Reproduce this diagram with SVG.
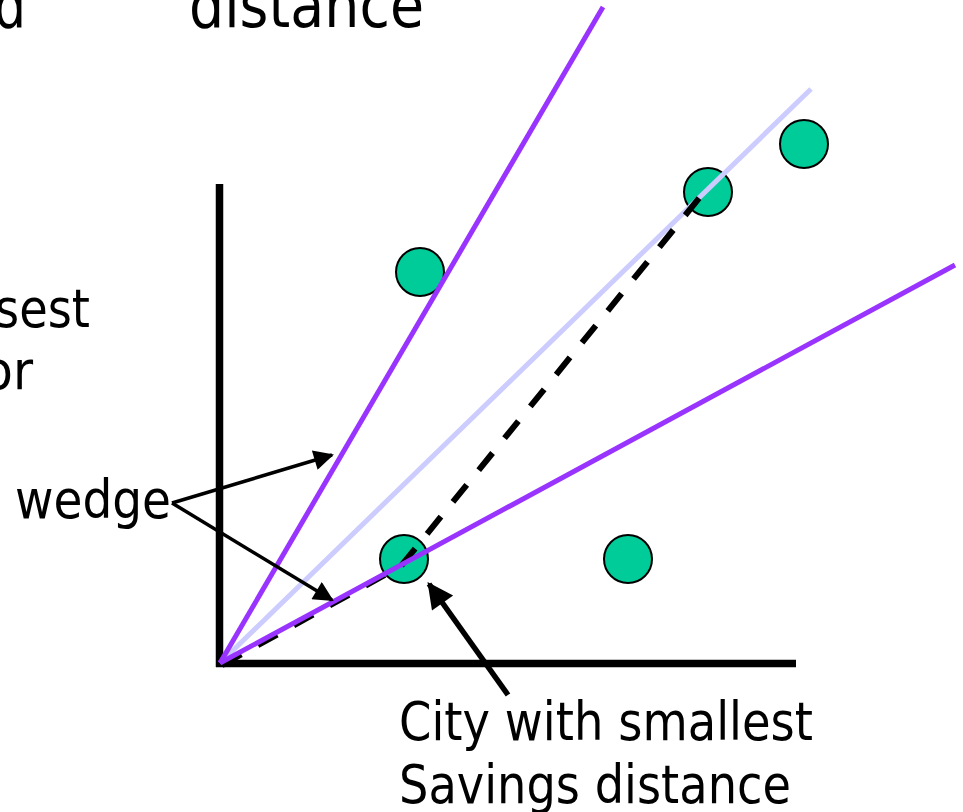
<svg xmlns="http://www.w3.org/2000/svg" width="963" height="812" viewBox="0 0 963 812">
<style>
.t{font-family:"DejaVu Sans","Noto Sans",sans-serif;font-size:54px;fill:#000}
.title{font-size:63px}
.city{fill:#00CC99;stroke:#000;stroke-width:2}
.axis{stroke:#000;stroke-width:7.5;fill:none}
.wedge{stroke:#9933FF;stroke-width:5;fill:none}
.mid{stroke:#CCCCFF;stroke-width:5;fill:none}
.dash{stroke:#000;stroke-width:6;stroke-dasharray:22 19;fill:none}
.ptr{stroke:#000;stroke-width:3.5;fill:none}
.ptr2{stroke:#000;stroke-width:5.5;fill:none}
</style>
<defs>
<marker id="ah" viewBox="0 0 10 10" refX="9" refY="5" markerUnits="userSpaceOnUse" markerWidth="26" markerHeight="20" orient="auto">
<path d="M0,0 L10,5 L0,10 z" fill="#000"/>
</marker>
<marker id="ah2" viewBox="0 0 10 10" refX="9" refY="5" markerUnits="userSpaceOnUse" markerWidth="30" markerHeight="26" orient="auto">
<path d="M0,0 L10,5 L0,10 z" fill="#000"/>
</marker>
</defs>
<rect width="963" height="812" fill="#fff"/>
<g id="labels">
<text class="t title" x="-6" y="27" textLength="32" lengthAdjust="spacingAndGlyphs">d</text>
<text class="t title" x="189" y="27" textLength="235" lengthAdjust="spacingAndGlyphs">distance</text>
<text class="t" x="-5" y="327" textLength="95" lengthAdjust="spacingAndGlyphs">sest</text>
<text class="t" x="-17" y="389" textLength="50" lengthAdjust="spacingAndGlyphs">or</text>
</g>
<g id="axes">
<line class="axis" x1="219.5" y1="184" x2="219.5" y2="667"/>
<line class="axis" x1="216" y1="663.5" x2="796" y2="663.5"/>
</g>
<g id="city1"><circle class="city" cx="420" cy="272" r="24"/></g>
<g id="city2"><circle class="city" cx="708" cy="192" r="24"/></g>
<g id="city3"><circle class="city" cx="804" cy="144" r="24"/></g>
<g id="city4"><circle class="city" cx="404" cy="559" r="24"/></g>
<g id="city5"><circle class="city" cx="628" cy="559" r="24"/></g>
<g id="connectors">
<line class="mid" x1="220" y1="663" x2="811" y2="89"/>
<path class="dash" d="M222,665 L401,566 L700,197"/>
<line class="wedge" x1="220" y1="663" x2="603" y2="7"/>
<line class="wedge" x1="220" y1="663" x2="955" y2="265"/>
<line class="ptr" x1="172" y1="503" x2="332" y2="455" marker-end="url(#ah)"/>
<line class="ptr" x1="172" y1="503" x2="332" y2="600" marker-end="url(#ah)"/>
<line class="ptr2" x1="508" y1="695" x2="429" y2="584" marker-end="url(#ah2)"/>
</g>
<g id="wedge-label"><text class="t" x="15" y="518" textLength="156" lengthAdjust="spacingAndGlyphs">wedge</text></g>
<g id="city-label">
<text class="t" x="399" y="740" textLength="414" lengthAdjust="spacingAndGlyphs">City with smallest</text>
<text class="t" x="399" y="803" textLength="392" lengthAdjust="spacingAndGlyphs">Savings distance</text>
</g>
</svg>
